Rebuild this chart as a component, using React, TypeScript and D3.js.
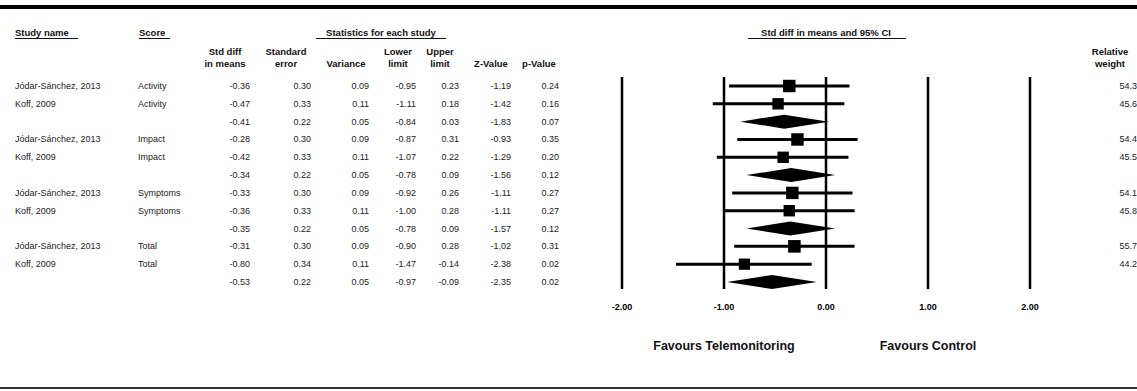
import * as d3 from 'd3';

// one entry per row; '' / null marks the pooled (summary) rows
const studyNames = [
  'Jódar-Sánchez, 2013', 'Koff, 2009', '',
  'Jódar-Sánchez, 2013', 'Koff, 2009', '',
  'Jódar-Sánchez, 2013', 'Koff, 2009', '',
  'Jódar-Sánchez, 2013', 'Koff, 2009', '',
];
const scores = [
  'Activity', 'Activity', '',
  'Impact', 'Impact', '',
  'Symptoms', 'Symptoms', '',
  'Total', 'Total', '',
];
const stdDiff = [-0.36, -0.47, -0.41, -0.28, -0.42, -0.34, -0.33, -0.36, -0.35, -0.31, -0.80, -0.53];
const stdErr = [0.30, 0.33, 0.22, 0.30, 0.33, 0.22, 0.30, 0.33, 0.22, 0.30, 0.34, 0.22];
const variance = [0.09, 0.11, 0.05, 0.09, 0.11, 0.05, 0.09, 0.11, 0.05, 0.09, 0.11, 0.05];
const lowerLimit = [-0.95, -1.11, -0.84, -0.87, -1.07, -0.78, -0.92, -1.00, -0.78, -0.90, -1.47, -0.97];
const upperLimit = [0.23, 0.18, 0.03, 0.31, 0.22, 0.09, 0.26, 0.28, 0.09, 0.28, -0.14, -0.09];
const zValue = [-1.19, -1.42, -1.83, -0.93, -1.29, -1.56, -1.11, -1.11, -1.57, -1.02, -2.38, -2.35];
const pValue = [0.24, 0.16, 0.07, 0.35, 0.20, 0.12, 0.27, 0.27, 0.12, 0.31, 0.02, 0.02];
const relWeight = [54.37, 45.63, null, 54.42, 45.58, null, 54.17, 45.83, null, 55.74, 44.26, null];

const axisTicks = [-2, -1, 0, 1, 2];
const headTop = ['Std diff', 'Standard', '', 'Lower', 'Upper', '', ''];
const headBottom = ['in means', 'error', 'Variance', 'limit', 'limit', 'Z-Value', 'p-Value'];

const W = 1137;
const H = 391;
const FONT = '"Liberation Sans", Arial, sans-serif';

// plain hyphen for negatives, like the original output
const fmt = d3.formatLocale({ decimal: '.', thousands: ',', grouping: [3], currency: ['', ''], minus: '-' }).format('.2f');

export default function App() {
  const columns = [stdDiff, stdErr, variance, lowerLimit, upperLimit, zValue, pValue];
  const colRight = [250, 311, 369, 416, 459, 511, 559];
  const colCenter = [225, 286, 346, 398, 440, 491, 539];

  const rowIdx = d3.range(stdDiff.length);
  const y = d3.scalePoint<number>().domain(rowIdx).range([86, 282]);
  const x = d3.scaleLinear().domain([-2, 2]).range([622, 1030]);
  const isSummary = (i: number) => relWeight[i] == null;

  return (
    <svg width={W} height={H} style={{ position: 'fixed', left: 0, top: 0, background: '#fff' }}
      fontFamily={FONT}>
      <rect x={0} y={5} width={W} height={4} fill="#000" />
      <rect x={0} y={387} width={W} height={2} fill="#333" />

      {/* column headers */}
      <g fontSize={9.5} fontWeight="bold" fill="#111">
        <text x={15} y={36}>Study name</text>
        <line x1={15} x2={78} y1={38.5} y2={38.5} stroke="#111" strokeWidth={1} />
        <text x={139} y={36}>Score</text>
        <line x1={139} x2={170} y1={38.5} y2={38.5} stroke="#111" strokeWidth={1} />
        <text x={381} y={36} textAnchor="middle">Statistics for each study</text>
        <line x1={316} x2={446} y1={38.5} y2={38.5} stroke="#111" strokeWidth={1} />
        <text x={x(0)} y={36} textAnchor="middle">Std diff in means and 95% CI</text>
        <line x1={748} x2={906} y1={38.5} y2={38.5} stroke="#111" strokeWidth={1} />
        {colCenter.map((cx, j) => (
          <g key={j}>
            <text x={cx} y={55} textAnchor="middle">{headTop[j]}</text>
            <text x={cx} y={67} textAnchor="middle">{headBottom[j]}</text>
          </g>
        ))}
        <text x={1110} y={55} textAnchor="middle">Relative</text>
        <text x={1110} y={67} textAnchor="middle">weight</text>
      </g>

      {/* table body */}
      <g fontSize={9} fill="#222">
        {rowIdx.map(i => (
          <g key={i} transform={`translate(0,${(y(i) ?? 0) + 3})`}>
            <text x={15}>{studyNames[i]}</text>
            <text x={138}>{scores[i]}</text>
            {columns.map((col, j) => (
              <text key={j} x={colRight[j]} textAnchor="end">{fmt(col[i])}</text>
            ))}
            {relWeight[i] != null && <text x={1142} textAnchor="end">{fmt(relWeight[i] as number)}</text>}
          </g>
        ))}
      </g>

      {/* forest plot */}
      <g>
        {axisTicks.map(t => (
          <line key={t} x1={x(t)} x2={x(t)} y1={77} y2={289} stroke="#000" strokeWidth={2.5} />
        ))}
        {rowIdx.map(i => {
          const cy = y(i) ?? 0;
          if (isSummary(i)) {
            const pts = [[x(lowerLimit[i]), cy], [x(stdDiff[i]), cy - 7], [x(upperLimit[i]), cy], [x(stdDiff[i]), cy + 7]];
            return <path key={i} d={d3.line()(pts as [number, number][]) + 'Z'} fill="#000" />;
          }
          const s = 12.5 * Math.sqrt((relWeight[i] as number) / 55);
          return (
            <g key={i}>
              <line x1={x(lowerLimit[i])} x2={x(upperLimit[i])} y1={cy} y2={cy} stroke="#000" strokeWidth={3} />
              <rect x={x(stdDiff[i]) - s / 2} y={cy - s / 2} width={s} height={s} fill="#000" />
            </g>
          );
        })}
        <g fontSize={9} fontWeight="bold" fill="#000">
          {axisTicks.map(t => (
            <text key={t} x={x(t)} y={310} textAnchor="middle">{fmt(t)}</text>
          ))}
        </g>
        <g fontSize={12.5} fontWeight="bold" fill="#111">
          <text x={x(-1)} y={350} textAnchor="middle">Favours Telemonitoring</text>
          <text x={x(1)} y={350} textAnchor="middle">Favours Control</text>
        </g>
      </g>
    </svg>
  );
}
